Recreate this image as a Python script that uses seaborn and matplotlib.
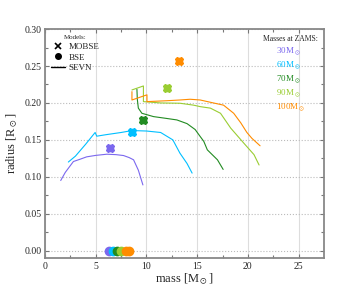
import numpy as np
import seaborn as sns
import matplotlib.pyplot as plt
from matplotlib.lines import Line2D

sns.set_style("ticks")
plt.rcParams['font.family'] = ['Liberation Serif', 'DejaVu Serif']
plt.rcParams['mathtext.fontset'] = 'stix'

# ZAMS masses and colours
labels = ['30M$_\\odot$', '60M$_\\odot$', '70M$_\\odot$', '90M$_\\odot$', '100M$_\\odot$']
colors = ['#7B68EE', '#00BFFF', '#228B22', '#9ACD32', '#FF8C00']

# SEVN tracks (mass, radius)
m30 = [1.55, 2.0, 2.8, 3.5, 4.1, 5.0, 6.1, 7.0, 7.74, 8.3, 8.73, 9.2, 9.65]
r30 = [0.095, 0.106, 0.1207, 0.124, 0.127, 0.129, 0.1306, 0.130, 0.1288, 0.126, 0.123, 0.109, 0.089]

m60 = [2.3, 3.0, 4.0, 4.94, 5.1, 6.0, 6.5, 7.5, 8.57, 10.0, 11.4, 12.6, 13.3, 14.0, 14.5]
r60 = [0.12, 0.128, 0.144, 0.16, 0.155, 0.157, 0.158, 0.160, 0.1626, 0.162, 0.16, 0.15, 0.132, 0.118, 0.105]

m70 = [9.06, 9.1, 9.2, 9.55, 10.7, 12.0, 13.0, 14.0, 14.8, 15.3, 15.65, 16.0, 17.0, 17.56]
r70 = [0.2185, 0.205, 0.193, 0.186, 0.1815, 0.179, 0.177, 0.172, 0.164, 0.1545, 0.148, 0.1365, 0.123, 0.110]

m90 = [8.57, 9.7, 9.7, 11.4, 13.3, 14.65, 15.3, 16.3, 17.3, 18.3, 19.6, 20.6, 21.1]
r90 = [0.2176, 0.223, 0.2018, 0.200, 0.1996, 0.197, 0.195, 0.193, 0.186, 0.166, 0.1455, 0.13, 0.116]

m100 = [8.57, 8.57, 10.05, 10.05, 12.0, 13.3, 14.3, 15.3, 16.6, 17.6, 18.6, 19.3, 19.9, 20.4, 21.2]
r100 = [0.2153, 0.204, 0.211, 0.2018, 0.203, 0.204, 0.205, 0.204, 0.200, 0.197, 0.186, 0.173, 0.16, 0.152, 0.142]

tracks = [(m30, r30), (m60, r60), (m70, r70), (m90, r90), (m100, r100)]

# MOBSE points
mobse_m = [6.42, 8.57, 9.7, 12.0, 13.2]
mobse_r = [0.1387, 0.161, 0.177, 0.2207, 0.2568]

# BSE points
bse_m = [6.3, 6.7, 7.1, 7.5, 8.0]
bse_r = [0.0, 0.0, 0.0, 0.0, 0.0]

fig = plt.figure(figsize=(3.6, 2.88), dpi=100)
ax = fig.add_axes([0.125, 0.104, 0.775, 0.795])

for (m, r), c in zip(tracks, colors):
    sns.lineplot(x=m, y=r, color=c, lw=0.8, sort=False, ax=ax, estimator=None)

for i, c in enumerate(colors):
    ax.plot(mobse_m[i], mobse_r[i], marker='o', ms=4.5, color=c, ls='none')
    ax.plot(mobse_m[i], mobse_r[i], marker='X', ms=5.5, color=c, ls='none')
for i, c in enumerate(colors):
    ax.plot(bse_m[i], bse_r[i], marker='o', ms=6, color=c, ls='none')
ax.plot(8.3, 0.0, marker='o', ms=6, color=colors[-1], ls='none')

ax.set_xlim(0, 27.5)
ax.set_ylim(-0.01, 0.30)
ax.set_xticks([0, 5, 10, 15, 20, 25])
ax.set_yticks([0.0, 0.05, 0.10, 0.15, 0.20, 0.25, 0.30])
ax.set_xticks(np.arange(2.5, 27.5, 5), minor=True)
ax.set_yticks(np.arange(0.025, 0.3, 0.05), minor=True)
ax.yaxis.set_major_formatter(plt.FormatStrFormatter('%.2f'))
ax.grid(axis='x', color='#dddddd', lw=0.8, ls='-')
ax.grid(axis='y', color='#bbbbbb', lw=0.8, ls=':')
ax.tick_params(which='both', direction='in', top=True, right=True,
               labelsize=7, color='#777777', length=3, width=0.8, pad=2.5)
ax.tick_params(which='minor', length=2)
for s in ax.spines.values():
    s.set_color('#888888')
    s.set_linewidth(1.3)
ax.set_xlabel('mass [M$_\\odot$]', fontsize=9, labelpad=0.5)
ax.set_ylabel('radius [R$_\\odot$]', fontsize=9, labelpad=3)

handles = [Line2D([], [], marker='x', color='k', ls='none', ms=4, mew=1.2),
           Line2D([], [], marker='o', color='k', ls='none', ms=4),
           Line2D([], [], color='k', lw=1)]
leg1 = ax.legend(handles, ['MOBSE', 'BSE', 'SEVN'], title='Models:', loc='upper left',
                 frameon=False, fontsize=6.5, title_fontsize=5, handlelength=1.5,
                 handletextpad=0.4, labelspacing=0.25, borderaxespad=0.3)
ax.add_artist(leg1)

mh = [Line2D([], [], ls='none') for _ in labels]
leg2 = ax.legend(mh, labels, title='Masses at ZAMS:', loc='upper right', frameon=False,
                 fontsize=6.5, title_fontsize=5.5, handlelength=0, handletextpad=0,
                 labelspacing=0.25, borderaxespad=0.3)
for t, c in zip(leg2.get_texts(), colors):
    t.set_color(c)

fig.savefig('out.png', dpi=100)
